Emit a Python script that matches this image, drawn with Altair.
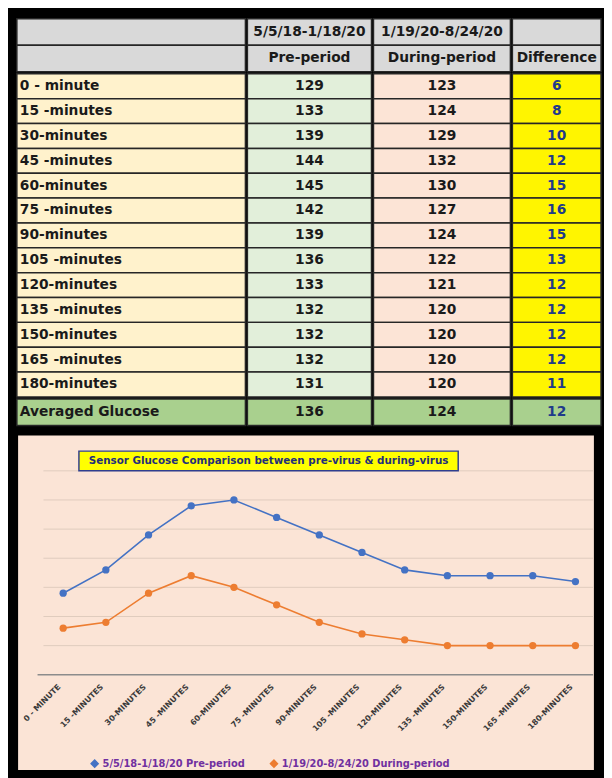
import altair as alt
import pandas as pd

# ---------------- data ----------------
ROW_LABELS = ["0 - minute", "15 -minutes", "30-minutes", "45 -minutes", "60-minutes",
              "75 -minutes", "90-minutes", "105 -minutes", "120-minutes", "135 -minutes",
              "150-minutes", "165 -minutes", "180-minutes"]
PRE_PERIOD = [129, 133, 139, 144, 145, 142, 139, 136, 133, 132, 132, 132, 131]
DURING_PERIOD = [123, 124, 129, 132, 130, 127, 124, 122, 121, 120, 120, 120, 120]
DIFFERENCE = [6, 8, 10, 12, 15, 16, 15, 13, 12, 12, 12, 12, 11]
AVG_LABEL = "Averaged Glucose"
AVG_VALUES = [136, 124, 12]
HEADER_DATES = ["", "5/5/18-1/18/20", "1/19/20-8/24/20", ""]
HEADER_NAMES = ["", "Pre-period", "During-period", "Difference"]
SERIES = ["5/5/18-1/18/20 Pre-period", "1/19/20-8/24/20 During-period"]
TITLE = "Sensor Glucose Comparison between pre-virus & during-virus"
GRID_VALUES = [120, 125, 130, 135, 140, 145, 150]
BASE_VALUE = [115]

# ---------------- style ----------------
FONT = "DejaVu Sans"
COL_W = [232, 126, 139, 90]
H_HEAD, H_DATA, H_AVG = 54, 328, 27
GRAY = "#D9D9D9"
COL_FILLS = ["#FFF2CC", "#E2EFDA", "#FCE4D6", "#FFF500"]
AVG_FILL = "#A9D08E"
INK = "#1a1a1a"
NAVY = "#1F3A8A"
BLUE = "#4472C4"
ORANGE = "#ED7D31"
PEACH = "#FBE4D6"
CH_W, CH_H = 587, 342
BASE_Y = 244


def cell_panel(texts, width, height, fill, color, left=False, key="c"):
    df = pd.DataFrame({"r": list(range(len(texts))), "t": texts, "c": [key] * len(texts)})
    base = alt.Chart(df)
    ysc = alt.Scale(paddingInner=0, paddingOuter=0)
    xsc = alt.Scale(paddingInner=0, paddingOuter=0)
    y = alt.Y("r:O", axis=None, scale=ysc)
    rect = base.mark_rect(fill=fill, stroke="#262626", strokeWidth=1.5).encode(
        x=alt.X("c:N", axis=None, scale=xsc), y=y)
    if left:
        txt = base.mark_text(align="left", dx=3, font=FONT, fontWeight="bold",
                             fontSize=14, color=color).encode(
            x=alt.X("c:N", axis=None, scale=xsc, bandPosition=0), y=y, text="t:N")
    else:
        txt = base.mark_text(align="center", font=FONT, fontWeight="bold",
                             fontSize=14, color=color).encode(
            x=alt.X("c:N", axis=None, scale=xsc), y=y, text="t:N")
    return alt.layer(rect, txt).properties(width=width, height=height)


# header group
head_cols = []
for i in range(4):
    head_cols.append(cell_panel([HEADER_DATES[i], HEADER_NAMES[i]], COL_W[i], H_HEAD,
                                GRAY, INK, key=f"h{i}"))
head = alt.hconcat(*head_cols, spacing=0)

# data group
data_texts = [ROW_LABELS, [str(v) for v in PRE_PERIOD], [str(v) for v in DURING_PERIOD],
              [str(v) for v in DIFFERENCE]]
data_cols = []
for i in range(4):
    data_cols.append(cell_panel(data_texts[i], COL_W[i], H_DATA, COL_FILLS[i],
                                NAVY if i == 3 else INK, left=(i == 0), key=f"d{i}"))
data = alt.hconcat(*data_cols, spacing=0)

# average group
avg_texts = [[AVG_LABEL]] + [[str(v)] for v in AVG_VALUES]
avg_cols = []
for i in range(4):
    avg_cols.append(cell_panel(avg_texts[i], COL_W[i], H_AVG, AVG_FILL,
                               NAVY if i == 3 else INK, left=(i == 0), key=f"a{i}"))
avg = alt.hconcat(*avg_cols, spacing=0)

table = alt.vconcat(head, data, avg, spacing=0)

# ---------------- line chart ----------------
chart_df = pd.DataFrame({
    "minute": ROW_LABELS * 2,
    "series": [SERIES[0]] * len(ROW_LABELS) + [SERIES[1]] * len(ROW_LABELS),
    "glucose": PRE_PERIOD + DURING_PERIOD,
})

yscale = alt.Scale(domain=[115, 150], range=[BASE_Y, 37], zero=False, nice=False)
xscale = alt.Scale(type="point", range=[47, 567], padding=0)

xenc = alt.X("minute:N", sort=ROW_LABELS, scale=xscale, title=None,
             axis=alt.Axis(orient="bottom", offset=-(CH_H - BASE_Y), domain=False, ticks=False,
                           grid=False, labelAngle=315, labelAlign="right",
                           labelBaseline="middle", labelPadding=11, labelOffset=-4,
                           labelFont=FONT, labelFontSize=8, labelFontWeight="bold",
                           labelColor="#3A3A3A", labelExpr="upper(datum.label)"))
yenc = alt.Y("glucose:Q", scale=yscale, axis=None)
cenc = alt.Color("series:N", sort=SERIES,
                 scale=alt.Scale(domain=SERIES, range=[BLUE, ORANGE]),
                 legend=alt.Legend(orient="none", legendX=74, legendY=751,
                                   direction="horizontal", title=None, labelFont=FONT,
                                   labelFontSize=10, labelFontWeight="bold",
                                   labelColor="#7030A0", symbolType="diamond",
                                   symbolSize=50, columnPadding=22, labelOffset=3,
                                   labelLimit=300))

grid = alt.Chart(pd.DataFrame({"v": GRID_VALUES})).mark_rule(
    color="#E0CBBE", strokeWidth=1).encode(
    y=alt.Y("v:Q", scale=yscale, axis=None), x=alt.value(27), x2=alt.value(585))
baseline = alt.Chart(pd.DataFrame({"v": BASE_VALUE})).mark_rule(
    color="#8C8C8C", strokeWidth=1.5).encode(
    y=alt.Y("v:Q", scale=yscale, axis=None), x=alt.value(21), x2=alt.value(585))

lines = alt.Chart(chart_df).mark_line(strokeWidth=1.6).encode(x=xenc, y=yenc, color=cenc)
points = alt.Chart(chart_df).mark_point(filled=True, size=55, opacity=1).encode(
    x=xenc, y=yenc, color=cenc)

tdf = pd.DataFrame({"t": [TITLE]})
title_box = alt.Chart(tdf).mark_rect(fill="#FFFF00", stroke="#2F3E8F", strokeWidth=1.5).encode(
    x=alt.value(63), x2=alt.value(448), y=alt.value(17), y2=alt.value(37))
title_txt = alt.Chart(tdf).mark_text(font=FONT, fontWeight="bold", fontSize=10.5,
                                     color="#1F2F7A", align="center",
                                     baseline="middle").encode(
    x=alt.value(255.5), y=alt.value(27.5), text="t:N")

line_chart = alt.layer(grid, baseline, lines, points, title_box, title_txt).properties(
    width=CH_W, height=CH_H,
    view=alt.ViewBackground(fill=PEACH, stroke="black", strokeWidth=2.5))

chart = alt.vconcat(table, line_chart, spacing=6).properties(
    padding={"left": 7, "top": 4, "right": 2, "bottom": 0},
    background="black",
).configure_view(strokeWidth=0)

chart.save("out.html", embed_options={"renderer": "svg", "actions": False})
